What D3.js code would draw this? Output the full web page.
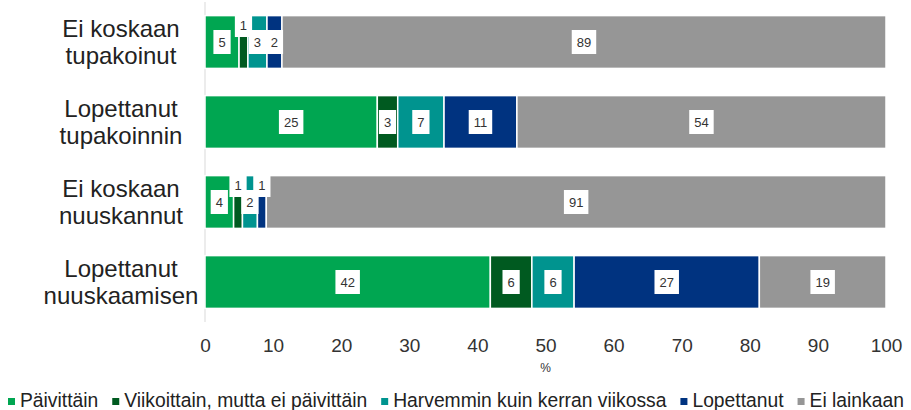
<!DOCTYPE html>
<html>
<head>
<meta charset="utf-8">
<script src="https://cdn.jsdelivr.net/npm/d3@7"></script>
<style>
  body { margin: 0; background: #fff; }
  svg { display: block; font-family: "Liberation Sans", Arial, sans-serif; }
</style>
</head>
<body>
<svg id="chart" width="911" height="410"></svg>
<script>
// categories (two-line labels)
const categories = [
  ['Ei koskaan', 'tupakoinut'],
  ['Lopettanut', 'tupakoinnin'],
  ['Ei koskaan', 'nuuskannut'],
  ['Lopettanut', 'nuuskaamisen']
]
const seriesNames = ['Päivittäin', 'Viikoittain, mutta ei päivittäin', 'Harvemmin kuin kerran viikossa', 'Lopettanut', 'Ei lainkaan']

// values per series, one per category (%)
const paivittain = [5.0, 25.3, 4.2, 41.9]
const viikoittain = [1.3, 3.0, 1.3, 6.1]
const harvemmin = [2.8, 6.8, 2.2, 6.2]
const lopettanut = [2.2, 10.7, 1.3, 27.2]
const eiLainkaan = [88.7, 54.2, 91.0, 18.6]

const xTicks = [0, 10, 20, 30, 40, 50, 60, 70, 80, 90, 100]

const colors = ['#00a651', '#005a20', '#00948f', '#003380', '#969696']

const margin = { top: 2, right: 25, bottom: 88, left: 205 }
const width = 911 - margin.left - margin.right
const height = 410 - margin.top - margin.bottom

const svg = d3.select('#chart')
const g = svg.append('g')
  .attr('transform', `translate(${margin.left}, ${margin.top})`)

const rows = categories.map((c, i) => ({
  key: i,
  values: [paivittain[i], viikoittain[i], harvemmin[i], lopettanut[i], eiLainkaan[i]]
}))

const x = d3.scaleLinear().domain([0, 100]).range([0, width])
const y = d3.scaleBand()
  .domain(d3.range(categories.length))
  .range([0, height])
  .paddingInner(0.34)
  .paddingOuter(0.17)

// left axis line
g.append('line')
  .attr('x1', 0).attr('x2', 0)
  .attr('y1', 0).attr('y2', height)
  .style('stroke', '#d9d9d9')

// x axis
const xAxis = d3.axisBottom(x).tickValues(xTicks).tickSize(0).tickPadding(17)
g.append('g')
  .attr('transform', `translate(0, ${height})`)
  .call(xAxis)
  .call(a => a.select('.domain').remove())
  .selectAll('text')
  .style('font-size', '19px')
  .style('fill', '#333')
  .style('font-family', '"Liberation Sans", Arial, sans-serif')

g.append('text')
  .attr('x', x(50))
  .attr('y', height + 50)
  .attr('text-anchor', 'middle')
  .style('font-size', '12px')
  .style('fill', '#333')
  .text('%')

// category labels
categories.forEach((c, i) => {
  const cy = y(i) + y.bandwidth() / 2
  const t = svg.append('text')
    .attr('text-anchor', 'middle')
    .style('font-size', '24px')
    .style('fill', '#222')
  c.forEach((line, j) => {
    t.append('tspan')
      .attr('x', 121)
      .attr('y', margin.top + cy - 5 + j * 27)
      .text(line)
  })
})

// stacked segments
rows.forEach(r => {
  let acc = 0
  r.segs = r.values.map((v, k) => {
    const s = { k, v, x0: acc, x1: acc + v, row: r.key }
    acc += v
    return s
  })
})

const rowG = g.selectAll('.row')
  .data(rows)
  .join('g')
    .attr('class', 'row')
    .attr('transform', d => `translate(0, ${y(d.key)})`)

rowG.selectAll('rect.seg')
  .data(d => d.segs)
  .join('rect')
    .attr('class', 'seg')
    .attr('x', d => x(d.x0))
    .attr('width', d => x(d.x1) - x(d.x0))
    .attr('y', 0)
    .attr('height', y.bandwidth())
    .style('fill', d => colors[d.k])
    .style('stroke', '#fff')
    .style('stroke-width', 1.5)

// data labels with white boxes
const labels = rowG.selectAll('g.lbl')
  .data(d => d.segs)
  .join('g')
    .attr('class', 'lbl')
    .attr('transform', d => {
      const small = Math.round(d.v) <= 1
      const cy = y.bandwidth() / 2 + (small ? -17 : 0)
      return `translate(${(x(d.x0) + x(d.x1)) / 2}, ${cy})`
    })

labels.append('rect')
  .style('fill', '#fff')

labels.append('text')
  .attr('text-anchor', 'middle')
  .attr('dy', '0.35em')
  .style('font-size', '13px')
  .style('fill', '#333')
  .text(d => Math.round(d.v))

labels.each(function () {
  const t = d3.select(this).select('text').node().getBBox()
  d3.select(this).select('rect')
    .attr('x', t.x - 5)
    .attr('y', -12)
    .attr('width', t.width + 10)
    .attr('height', 24)
})

// legend
const legend = svg.append('g').attr('transform', 'translate(8, 407)')
let lx = 0
seriesNames.forEach((name, k) => {
  const item = legend.append('g').attr('transform', `translate(${lx}, 0)`)
  item.append('rect')
    .attr('x', 0).attr('y', -9)
    .attr('width', 7).attr('height', 7)
    .style('fill', colors[k])
  const t = item.append('text')
    .attr('x', 12)
    .attr('y', 0)
    .style('font-size', '19.3px')
    .style('fill', '#222')
    .text(name)
  lx += 12 + t.node().getComputedTextLength() + 14
})
</script>
</body>
</html>
